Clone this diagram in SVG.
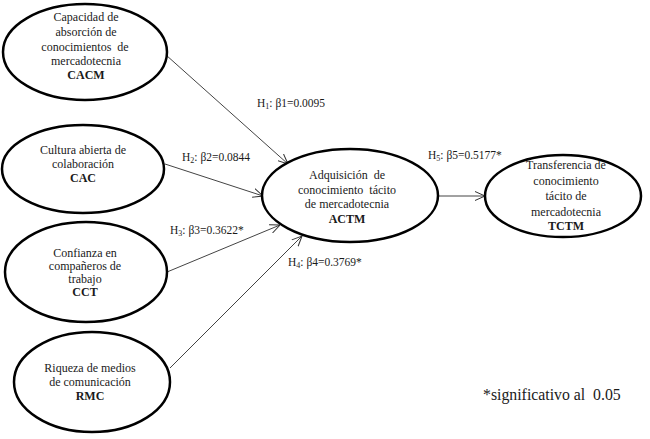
<svg xmlns="http://www.w3.org/2000/svg" width="650" height="439" viewBox="0 0 650 439" font-family="'Liberation Serif', 'Times New Roman', serif">
<defs>
<marker id="arr" viewBox="0 0 10 10" refX="10" refY="5" markerWidth="10" markerHeight="10" markerUnits="userSpaceOnUse" orient="auto">
<path d="M0,0.5 L10,5 L0,9.5" fill="none" stroke="#333" stroke-width="1"/>
</marker>
</defs>
<style>
.n{fill:#fff;stroke:#000;stroke-width:2.5}
.t{font-size:12px;fill:#1a1a1a;text-anchor:middle}
.b{font-weight:bold}
.l{font-size:11.5px;fill:#1a1a1a}
.s{font-size:8px}
.c{stroke:#444;stroke-width:1;fill:none;marker-end:url(#arr)}
</style>
<rect width="650" height="439" fill="#fff"/>
<g id="connectors">
<line class="c" x1="166" y1="55" x2="288" y2="164"/>
<line class="c" x1="165" y1="164" x2="263" y2="196"/>
<line class="c" x1="167" y1="272" x2="280" y2="225"/>
<line class="c" x1="170" y1="368" x2="302" y2="236"/>
<line class="c" x1="438" y1="196" x2="485" y2="196"/>
</g>
<g id="CACM">
<ellipse class="n" cx="85" cy="52" rx="82" ry="48"/>
<text class="t" x="86" y="21">Capacidad de</text>
<text class="t" x="86" y="36">absorción de</text>
<text class="t" x="85" y="51" xml:space="preserve">conocimientos  de</text>
<text class="t" x="86" y="65">mercadotecnia</text>
<text class="t b" x="86" y="79">CACM</text>
</g>
<g id="CAC">
<ellipse class="n" cx="83" cy="169" rx="81" ry="44"/>
<text class="t" x="83" y="154">Cultura abierta de</text>
<text class="t" x="83" y="168">colaboración</text>
<text class="t b" x="83" y="182">CAC</text>
</g>
<g id="CCT">
<ellipse class="n" cx="86" cy="272" rx="81" ry="50"/>
<text class="t" x="85" y="257">Confianza en</text>
<text class="t" x="85" y="270">compañeros de</text>
<text class="t" x="85" y="283">trabajo</text>
<text class="t b" x="85" y="296">CCT</text>
</g>
<g id="RMC">
<ellipse class="n" cx="92" cy="382" rx="78" ry="50"/>
<text class="t" x="90" y="372">Riqueza de medios</text>
<text class="t" x="90" y="386">de comunicación</text>
<text class="t b" x="90" y="400">RMC</text>
</g>
<g id="ACTM">
<ellipse class="n" cx="350" cy="195.5" rx="88" ry="46.5"/>
<text class="t" x="347" y="179" xml:space="preserve">Adquisición  de</text>
<text class="t" x="347" y="194" xml:space="preserve">conocimiento  tácito</text>
<text class="t" x="347" y="208">de mercadotecnia</text>
<text class="t b" x="347" y="223">ACTM</text>
</g>
<g id="TCTM">
<ellipse class="n" cx="563" cy="196" rx="78" ry="41"/>
<text class="t" x="566" y="169">Transferencia de</text>
<text class="t" x="566" y="184.5">conocimiento</text>
<text class="t" x="566" y="200">tácito de</text>
<text class="t" x="566" y="215.5">mercadotecnia</text>
<text class="t b" x="566" y="230">TCTM</text>
</g>
<g id="labels">
<text class="l" x="257" y="107">H<tspan class="s" dy="2">1</tspan><tspan dy="-2">: β1=0.0095</tspan></text>
<text class="l" x="182" y="161">H<tspan class="s" dy="2">2</tspan><tspan dy="-2">: β2=0.0844</tspan></text>
<text class="l" x="170" y="234">H<tspan class="s" dy="2">3</tspan><tspan dy="-2">: β3=0.3622*</tspan></text>
<text class="l" x="288" y="266">H<tspan class="s" dy="2">4</tspan><tspan dy="-2">: β4=0.3769*</tspan></text>
<text class="l" x="428" y="159">H<tspan class="s" dy="2">5</tspan><tspan dy="-2">: β5=0.5177*</tspan></text>
<text x="483" y="400" font-size="15.8" fill="#1a1a1a" xml:space="preserve">*significativo al  0.05</text>
</g>
</svg>
